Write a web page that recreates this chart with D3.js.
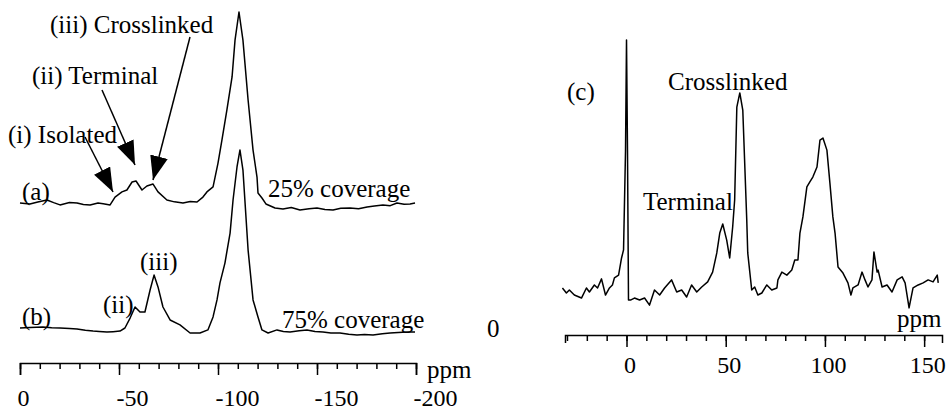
<!DOCTYPE html>
<html>
<head>
<meta charset="utf-8">
<script src="https://cdn.jsdelivr.net/npm/d3@7"></script>
<style>
  body { margin: 0; background: #fff; }
  svg text { font-family: "Liberation Serif", "Times New Roman", serif; font-size: 25px; fill: #000; }
</style>
</head>
<body>
<svg id="chart" width="949" height="412"></svg>
<script>
// Spectrum (a), 25% coverage: chemical shift (ppm) and relative intensity
const ppmA = [0, -5, -9, -13.6, -17, -20.2, -25, -28.8, -32, -35.4, -39.4, -42, -45.5, -48, -51.5, -54, -56.6, -58.6,
  -61.6, -64.1, -67.2, -69.7, -74.2, -78, -82.3, -86, -89.4, -92.4, -94.4, -97.5, -100, -102, -104.5, -107.1, -108.6,
  -110.6, -112.6, -115.2, -117.7, -119.7, -120.2, -122.2, -124.2, -128.8, -132.8, -137, -141.4, -146, -150, -154,
  -158.1, -162, -166.7, -171, -175.3, -179, -183.3, -187, -190.4, -194, -197, -199.5];
const intA = [0, -0.5, 0.5, 1.6, 0.2, -1.0, 0.3, 0, -0.8, -1.0, 0, -0.4, -1.0, 3.1, 5.8, 6.8, 11.0, 11.5,
  6.8, 8.9, 9.9, 5.8, 1.6, 0.6, 0, 0.8, 0.5, 3.1, 5.8, 8.4, 20.9, 33.0, 48.7, 66.0, 85.3,
  100, 85.3, 53.9, 27.7, 13.6, 5.2, 2.6, -0.5, -2.6, -3.1, -2.4, -3.7, -3.0, -2.6, -3.4,
  -3.7, -2.8, -2.6, -3.0, -2.1, -1.6, -1.0, -1.4, 0, -0.6, -0.5, 0];

// Spectrum (b), 75% coverage
const ppmB = [0, -5, -11.6, -16, -20.2, -25, -28.8, -33, -36.9, -40, -43.9, -47, -50.5, -53, -55.6, -58.1, -60.6,
  -63.1, -65.7, -67.7, -69.7, -72.2, -75.8, -80.8, -85.9, -90.9, -94.9, -97.5, -99.5, -101, -103.5, -106.1,
  -107.6, -109.6, -111.1, -112.6, -115.2, -117.7, -120.2, -122.2, -125.3, -129.8, -133, -136.4, -141, -144.9,
  -149, -153, -157, -161.6, -166, -170.2, -174, -178.3, -183, -186.9, -191, -195.5, -199.5];
const intB = [0, 0.3, 0.5, 0.1, 0, -0.3, -0.5, -1.2, -1.6, -1.8, -2.1, -1.9, -1.6, 0, 5.2, 11.0, 8.4,
  8.4, 19.9, 27.7, 21.5, 11.0, 4.2, 1.6, -2.6, -2.6, -1.0, 5.8, 14.7, 23.6, 34.0, 49.7,
  67.0, 84.3, 93.2, 82.7, 40.8, 14.7, 5.8, -1.0, -2.6, -1.0, -1.8, -2.1, -1.4, -1.0,
  -1.8, -2.1, -2.6, -2.6, -3.3, -3.7, -3.4, -3.7, -3.0, -2.6, -2.4, -2.1, -2.1];

// Spectrum (c)
const ppmC = [-32.3, -30.3, -28.8, -26.3, -22.7, -20.2, -18.7, -16.2, -14.6, -12.6, -10.6, -8.6, -7.1, -6.1, -4.0,
  -2.5, -1.5, -0.5, 0, 0.5, 1.0, 2.0, 4.0, 6.6, 9.1, 11.6, 14.1, 16.7, 19.2, 22.7, 25.3, 27.8, 30.3, 32.8,
  35.4, 37.9, 40.9, 43.4, 45.5, 47.0, 48.5, 50.5, 52.0, 53.5, 54.5, 55.6, 57.1, 58.6, 60.6, 61.1, 63.1,
  64.6, 66.2, 68.2, 70.7, 73.2, 75.8, 76.3, 78.3, 80.8, 83.3, 84.8, 86.4, 87.4, 88.9, 90.9, 92.4, 93.9,
  96.0, 97.5, 99.0, 101.0, 102.5, 104.0, 105.1, 106.6, 109.1, 111.6, 113.1, 114.1, 116.7, 118.7, 120.2,
  121.7, 123.7, 124.7, 126.3, 126.8, 128.8, 131.3, 133.8, 136.4, 138.9, 140.4, 142.4, 144.4, 147.0,
  149.5, 152.0, 154.5, 156.6, 157.1];
const intC = [1.6, -0.4, 0.8, -1.2, -2.4, 1.6, 0, 2.8, 1.6, 5.2, -1.2, 1.6, 2.8, 5.6, 6.7,
  13.5, 16.7, 56, 100, 56, -3.2, -3.2, -2.4, -3.2, -2.4, -5.2, 0.8, -1.2, 1.6, 4.8, 0, 0.8, -2.0, 2.8,
  0, 2.0, 4.0, 7.9, 15.5, 23.4, 27.0, 20.6, 13.5, 25.8, 36.5, 73.4, 79.0, 72.2, 28.6, 15.5, 0.8,
  2.0, -1.2, -0.4, 2.8, 0.8, 1.6, 4.8, 7.9, 6.7, 8.7, 12.7, 12.7, 23.4, 29.8, 41.7, 43.7, 45.6,
  49.6, 60.3, 61.1, 56.3, 43.3, 29.8, 23.4, 9.9, 7.5, 3.6, -1.2, 1.6, 2.8, 7.9, 4.8,
  2.0, 4.8, 15.9, 7.9, 8.7, 2.0, 2.8, 0, 4.8, 6.0, 3.6, -6.3, 1.6, 2.8,
  3.6, 4.8, 4.0, 6.7, 3.6];

const svg = d3.select("#chart");

// Left panel scales
const xLeft = d3.scaleLinear().domain([0, -200]).range([20, 416]);
const yA = d3.scaleLinear().domain([0, 100]).range([203, 12]);
const yB = d3.scaleLinear().domain([0, 100]).range([328, 137]);

// Right panel scales
const xRight = d3.scaleLinear().domain([-31, 159]).range([565, 942]);
const yC = d3.scaleLinear().domain([0, 100]).range([292, 40]);

function drawTrace(ppm, vals, x, y) {
    const pts = ppm.map((p, i) => [p, vals[i]]);
    const line = d3.line().x(d => x(d[0])).y(d => y(d[1]));
    svg.append("path")
        .datum(pts)
        .attr("d", line)
        .attr("fill", "none")
        .attr("stroke", "#000")
        .attr("stroke-width", 1.5)
        .attr("stroke-linejoin", "round");
}

drawTrace(ppmA, intA, xLeft, yA);
drawTrace(ppmB, intB, xLeft, yB);
drawTrace(ppmC, intC, xRight, yC);

// Axes: minor ticks every 10 ppm, longer ticks every 50
function drawAxis(x, yPos, minorVals, majorVals, labelY, anchor, dx, outer) {
    const g = svg.append("g").attr("transform", `translate(0,${yPos})`);
    g.append("g")
        .call(d3.axisBottom(x).tickValues(minorVals).tickSize(6).tickSizeOuter(outer).tickFormat(""));
    const major = g.append("g")
        .call(d3.axisBottom(x).tickValues(majorVals).tickSize(12).tickSizeOuter(0).tickFormat(d => String(d)));
    major.select(".domain").remove();
    major.selectAll("text")
        .attr("y", labelY)
        .attr("dy", 0)
        .attr("dx", dx)
        .style("text-anchor", anchor)
        .style("font-family", '"Liberation Serif", serif')
        .style("font-size", "24px")
        .attr("fill", "#000");
    g.selectAll("path, line").attr("stroke", "#000").attr("stroke-width", 1.5);
}

drawAxis(xLeft, 363, d3.range(0, -201, -10), [0, -50, -100, -150, -200], 43, "start", -3, 12);
drawAxis(xRight, 335, d3.range(-30, 151, 10), [0, 50, 100, 150], 38, "middle", 3, 8);

// Arrowheads
svg.append("defs").append("marker")
    .attr("id", "head")
    .attr("markerUnits", "userSpaceOnUse")
    .attr("viewBox", "0 0 24 18")
    .attr("refX", 24).attr("refY", 9)
    .attr("markerWidth", 24).attr("markerHeight", 18)
    .attr("orient", "auto")
    .append("path")
    .attr("d", "M0,0 L24,9 L0,18 Z")
    .attr("fill", "#000");

const arrows = [
    [85, 137, 113, 192],
    [102, 90, 135, 165],
    [190, 37, 153, 180]
];
arrows.forEach(a => {
    svg.append("line")
        .attr("x1", a[0]).attr("y1", a[1])
        .attr("x2", a[2]).attr("y2", a[3])
        .attr("stroke", "#000")
        .attr("stroke-width", 1.5)
        .attr("marker-end", "url(#head)");
});

// Text labels
const labels = [
    ["(iii) Crosslinked", 50, 33],
    ["(ii) Terminal", 32, 84],
    ["(i) Isolated", 8, 143],
    ["(a)", 22, 200],
    ["25% coverage", 268, 197],
    ["(iii)", 140, 270],
    ["(ii)", 103, 313],
    ["(b)", 22, 325],
    ["75% coverage", 282, 328],
    ["0", 487, 337],
    ["ppm", 427, 378],
    ["(c)", 567, 100],
    ["Crosslinked", 668, 90],
    ["Terminal", 643, 210],
    ["ppm", 897, 327]
];
labels.forEach(l => {
    svg.append("text").attr("x", l[1]).attr("y", l[2]).text(l[0]);
});
</script>
</body>
</html>
